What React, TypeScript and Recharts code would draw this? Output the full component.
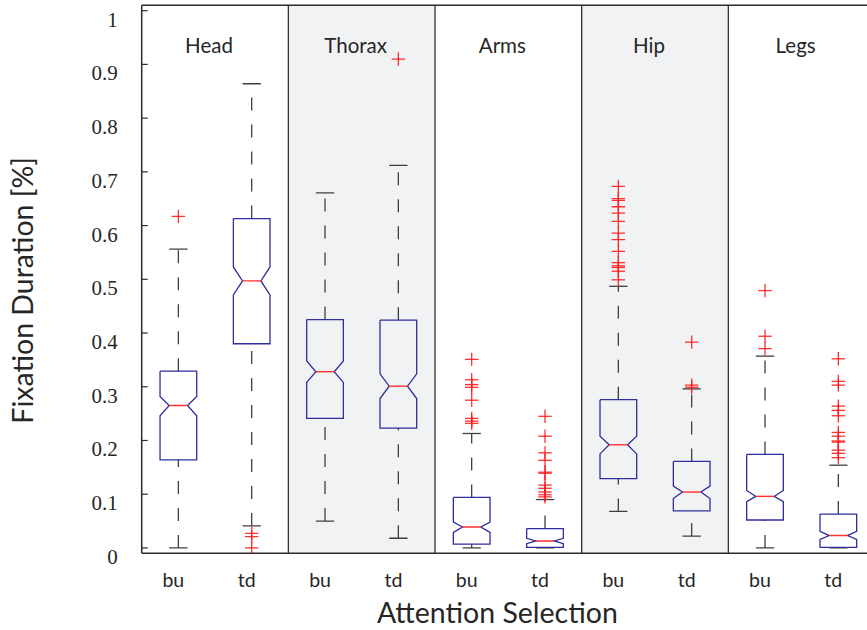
import React from 'react';
import {
  ComposedChart,
  Line,
  Scatter,
  XAxis,
  YAxis,
  ReferenceArea,
  ReferenceLine,
} from 'recharts';

// Body regions and the two attention conditions shown for each
const groups = ['Head', 'Thorax', 'Arms', 'Hip', 'Legs'];
const conditions = ['bu', 'td'];
const shadedGroups = ['Thorax', 'Hip'];

// Box statistics, one entry per box (Head bu, Head td, Thorax bu, ...)
const whiskerLow = [0.0, 0.041, 0.05, 0.018, 0.0, 0.0, 0.068, 0.022, 0.0, 0.0];
const quartile1 = [0.164, 0.38, 0.241, 0.223, 0.007, 0.001, 0.129, 0.069, 0.052, 0.001];
const notchLow = [0.246, 0.471, 0.308, 0.278, 0.029, 0.008, 0.175, 0.092, 0.086, 0.016];
const medians = [0.265, 0.497, 0.328, 0.301, 0.039, 0.013, 0.192, 0.104, 0.096, 0.023];
const notchHigh = [0.282, 0.523, 0.348, 0.324, 0.048, 0.018, 0.208, 0.115, 0.107, 0.031];
const quartile3 = [0.329, 0.613, 0.425, 0.424, 0.094, 0.036, 0.276, 0.161, 0.174, 0.063];
const whiskerHigh = [0.556, 0.864, 0.661, 0.712, 0.213, 0.09, 0.487, 0.296, 0.357, 0.154];

const outliers = [
  [0.617],
  [0.027, 0.021, 0.0],
  [],
  [0.91],
  [0.351, 0.313, 0.304, 0.299, 0.275, 0.241, 0.236, 0.232],
  [0.245, 0.208, 0.177, 0.163, 0.141, 0.139, 0.117, 0.111, 0.104, 0.099, 0.095],
  [0.673, 0.65, 0.647, 0.635, 0.623, 0.608, 0.586, 0.574, 0.552, 0.531, 0.525, 0.522, 0.515, 0.499],
  [0.383, 0.303, 0.299],
  [0.479, 0.394, 0.371],
  [0.352, 0.31, 0.303, 0.264, 0.256, 0.246, 0.215, 0.208, 0.199, 0.197, 0.182, 0.176, 0.168],
];

const yTicks = [0, 0.1, 0.2, 0.3, 0.4, 0.5, 0.6, 0.7, 0.8, 0.9, 1];

// Box geometry in x-axis units (one unit per box slot)
const BOX_HALF = 0.25;
const NOTCH_DEPTH = 0.125;
const CAP_HALF = 0.125;

const BOX_COLOR = '#2e2e9c';
const MEDIAN_COLOR = '#ff3030';
const WHISKER_COLOR = '#3f3f3f';
const OUTLIER_COLOR = '#ff1a1a';
const TEXT_COLOR = '#262626';
const AXIS_COLOR = '#2b2b2b';
const SANS = 'Lato, "Open Sans", sans-serif';
const SERIF = '"Liberation Serif", "DejaVu Serif", serif';

type Pt = { x: number; y: number };

const boxes = medians.map((med, i) => {
  const p = i + 1;
  const q1 = quartile1[i];
  const q3 = quartile3[i];
  const nLo = notchLow[i];
  const nHi = notchHigh[i];
  const h = BOX_HALF;
  const n = NOTCH_DEPTH;
  const outline: Pt[] = [
    { x: p - h, y: q3 },
    { x: p + h, y: q3 },
    { x: p + h, y: nHi },
    { x: p + h - n, y: med },
    { x: p + h, y: nLo },
    { x: p + h, y: q1 },
    { x: p - h, y: q1 },
    { x: p - h, y: nLo },
    { x: p - h + n, y: med },
    { x: p - h, y: nHi },
    { x: p - h, y: q3 },
  ];
  const median: Pt[] = [
    { x: p - h + n, y: med },
    { x: p + h - n, y: med },
  ];
  const upperWhisker: Pt[] = [
    { x: p, y: q3 },
    { x: p, y: whiskerHigh[i] },
  ];
  const lowerWhisker: Pt[] = [
    { x: p, y: whiskerLow[i] },
    { x: p, y: q1 },
  ];
  const upperCap: Pt[] = [
    { x: p - CAP_HALF, y: whiskerHigh[i] },
    { x: p + CAP_HALF, y: whiskerHigh[i] },
  ];
  const lowerCap: Pt[] = [
    { x: p - CAP_HALF, y: whiskerLow[i] },
    { x: p + CAP_HALF, y: whiskerLow[i] },
  ];
  return { outline, median, upperWhisker, lowerWhisker, upperCap, lowerCap };
});

const outlierPoints: Pt[] = outliers.flatMap((vals, i) => vals.map((v) => ({ x: i + 1, y: v })));

const PlusMark = (props: any) => {
  const { cx, cy } = props;
  if (cx == null || cy == null) return null;
  const r = 6.7;
  return (
    <g stroke={OUTLIER_COLOR} strokeWidth={1.3} strokeOpacity={0.9}>
      <line x1={cx - r} y1={cy} x2={cx + r} y2={cy} />
      <line x1={cx} y1={cy - r} x2={cx} y2={cy + r} />
    </g>
  );
};

const formatY = (v: number) => (v === 0 ? '0' : v === 1 ? '1' : v.toFixed(1));

const YTick = (props: any) => {
  const { x, y, payload } = props;
  return (
    <text x={x} y={y + 16} textAnchor="end" fontFamily={SERIF} fontSize={21} fill={TEXT_COLOR}>
      {formatY(payload.value)}
    </text>
  );
};

const XTick = (props: any) => {
  const { x, y, payload } = props;
  const label = conditions[(Math.round(payload.value) - 1) % conditions.length];
  return (
    <text x={x - 5} y={y + 25.4} textAnchor="middle" fontFamily={SANS} fontSize={19.5} fill={TEXT_COLOR}>
      {label}
    </text>
  );
};

const GroupTitle = (props: any) => {
  const { viewBox, name } = props;
  if (!viewBox) return null;
  return (
    <text
      x={viewBox.x + viewBox.width / 2 - 6}
      y={viewBox.y + 48}
      textAnchor="middle"
      fontFamily={SANS}
      fontSize={20.5}
      fill={TEXT_COLOR}
    >
      {name}
    </text>
  );
};

const YTitle = (props: any) => {
  const { viewBox } = props;
  if (!viewBox) return null;
  const cx = viewBox.x + 33;
  const cy = viewBox.y + viewBox.height / 2 + 11;
  return (
    <text
      x={cx}
      y={cy}
      transform={`rotate(-90, ${cx}, ${cy})`}
      textAnchor="middle"
      fontFamily={SANS}
      fontSize={28.5}
      fill={TEXT_COLOR}
    >
      Fixation Duration [%]
    </text>
  );
};

const XTitle = (props: any) => {
  const { viewBox } = props;
  if (!viewBox) return null;
  return (
    <text
      x={viewBox.x + viewBox.width / 2 - 11}
      y={viewBox.y + 70}
      textAnchor="middle"
      fontFamily={SANS}
      fontSize={28.5}
      fill={TEXT_COLOR}
    >
      Attention Selection
    </text>
  );
};

const lineProps = {
  type: 'linear' as const,
  dataKey: 'y',
  dot: false,
  activeDot: false,
  isAnimationActive: false,
  legendType: 'none' as const,
};

export default function App() {
  const slotTicks = medians.map((_, i) => i + 1);
  return (
    <div
      style={{
        position: 'absolute',
        left: 0,
        top: 0,
        width: 867,
        height: 630,
        overflow: 'hidden',
        background: '#ffffff',
      }}
    >
      <ComposedChart width={880} height={630} margin={{ top: 5.3, right: 5, bottom: 0, left: 0 }}>
        <XAxis
          type="number"
          dataKey="x"
          domain={[0.5, 10.5]}
          ticks={slotTicks}
          allowDataOverflow
          height={76.7}
          tickLine={false}
          axisLine={{ stroke: AXIS_COLOR, strokeWidth: 1.5 }}
          tick={<XTick />}
          label={(p: any) => <XTitle {...p} />}
        />
        <YAxis
          type="number"
          dataKey="y"
          domain={[-0.01, 1.01]}
          ticks={yTicks}
          allowDataOverflow
          width={141.7}
          tickSize={-6}
          tickMargin={30}
          tickLine={{ stroke: AXIS_COLOR, strokeWidth: 1.2 }}
          axisLine={{ stroke: AXIS_COLOR, strokeWidth: 1.5 }}
          tick={<YTick />}
          label={(p: any) => <YTitle {...p} />}
        />

        {groups.map((g, gi) => (
          <ReferenceArea
            key={`area-${g}`}
            x1={0.5 + gi * conditions.length}
            x2={0.5 + (gi + 1) * conditions.length}
            y1={-0.01}
            y2={1.01}
            fill={shadedGroups.includes(g) ? '#f1f2f4' : 'none'}
            fillOpacity={1}
            stroke="none"
            ifOverflow="visible"
            label={(p: any) => <GroupTitle {...p} name={g} />}
          />
        ))}

        {groups.slice(1).map((g, gi) => (
          <ReferenceLine
            key={`div-${g}`}
            x={0.5 + (gi + 1) * conditions.length}
            stroke="#333333"
            strokeWidth={1.3}
            ifOverflow="visible"
          />
        ))}
        <ReferenceLine y={1.01} stroke={AXIS_COLOR} strokeWidth={1.5} ifOverflow="visible" />

        {boxes.map((b, i) => (
          <Line
            key={`uw-${i}`}
            {...lineProps}
            data={b.upperWhisker}
            stroke={WHISKER_COLOR}
            strokeWidth={1.3}
            strokeDasharray="13 14"
          />
        ))}
        {boxes.map((b, i) => (
          <Line
            key={`lw-${i}`}
            {...lineProps}
            data={b.lowerWhisker}
            stroke={WHISKER_COLOR}
            strokeWidth={1.3}
            strokeDasharray="13 14"
          />
        ))}
        {boxes.map((b, i) => (
          <Line key={`uc-${i}`} {...lineProps} data={b.upperCap} stroke={WHISKER_COLOR} strokeWidth={1.3} />
        ))}
        {boxes.map((b, i) => (
          <Line key={`lc-${i}`} {...lineProps} data={b.lowerCap} stroke={WHISKER_COLOR} strokeWidth={1.3} />
        ))}
        {boxes.map((b, i) => (
          <Line key={`box-${i}`} {...lineProps} data={b.outline} stroke={BOX_COLOR} strokeWidth={1.3} />
        ))}
        {boxes.map((b, i) => (
          <Line key={`med-${i}`} {...lineProps} data={b.median} stroke={MEDIAN_COLOR} strokeWidth={1.4} />
        ))}

        <Scatter
          data={outlierPoints}
          dataKey="y"
          shape={(p: any) => <PlusMark {...p} />}
          isAnimationActive={false}
          legendType="none"
        />
      </ComposedChart>
    </div>
  );
}
